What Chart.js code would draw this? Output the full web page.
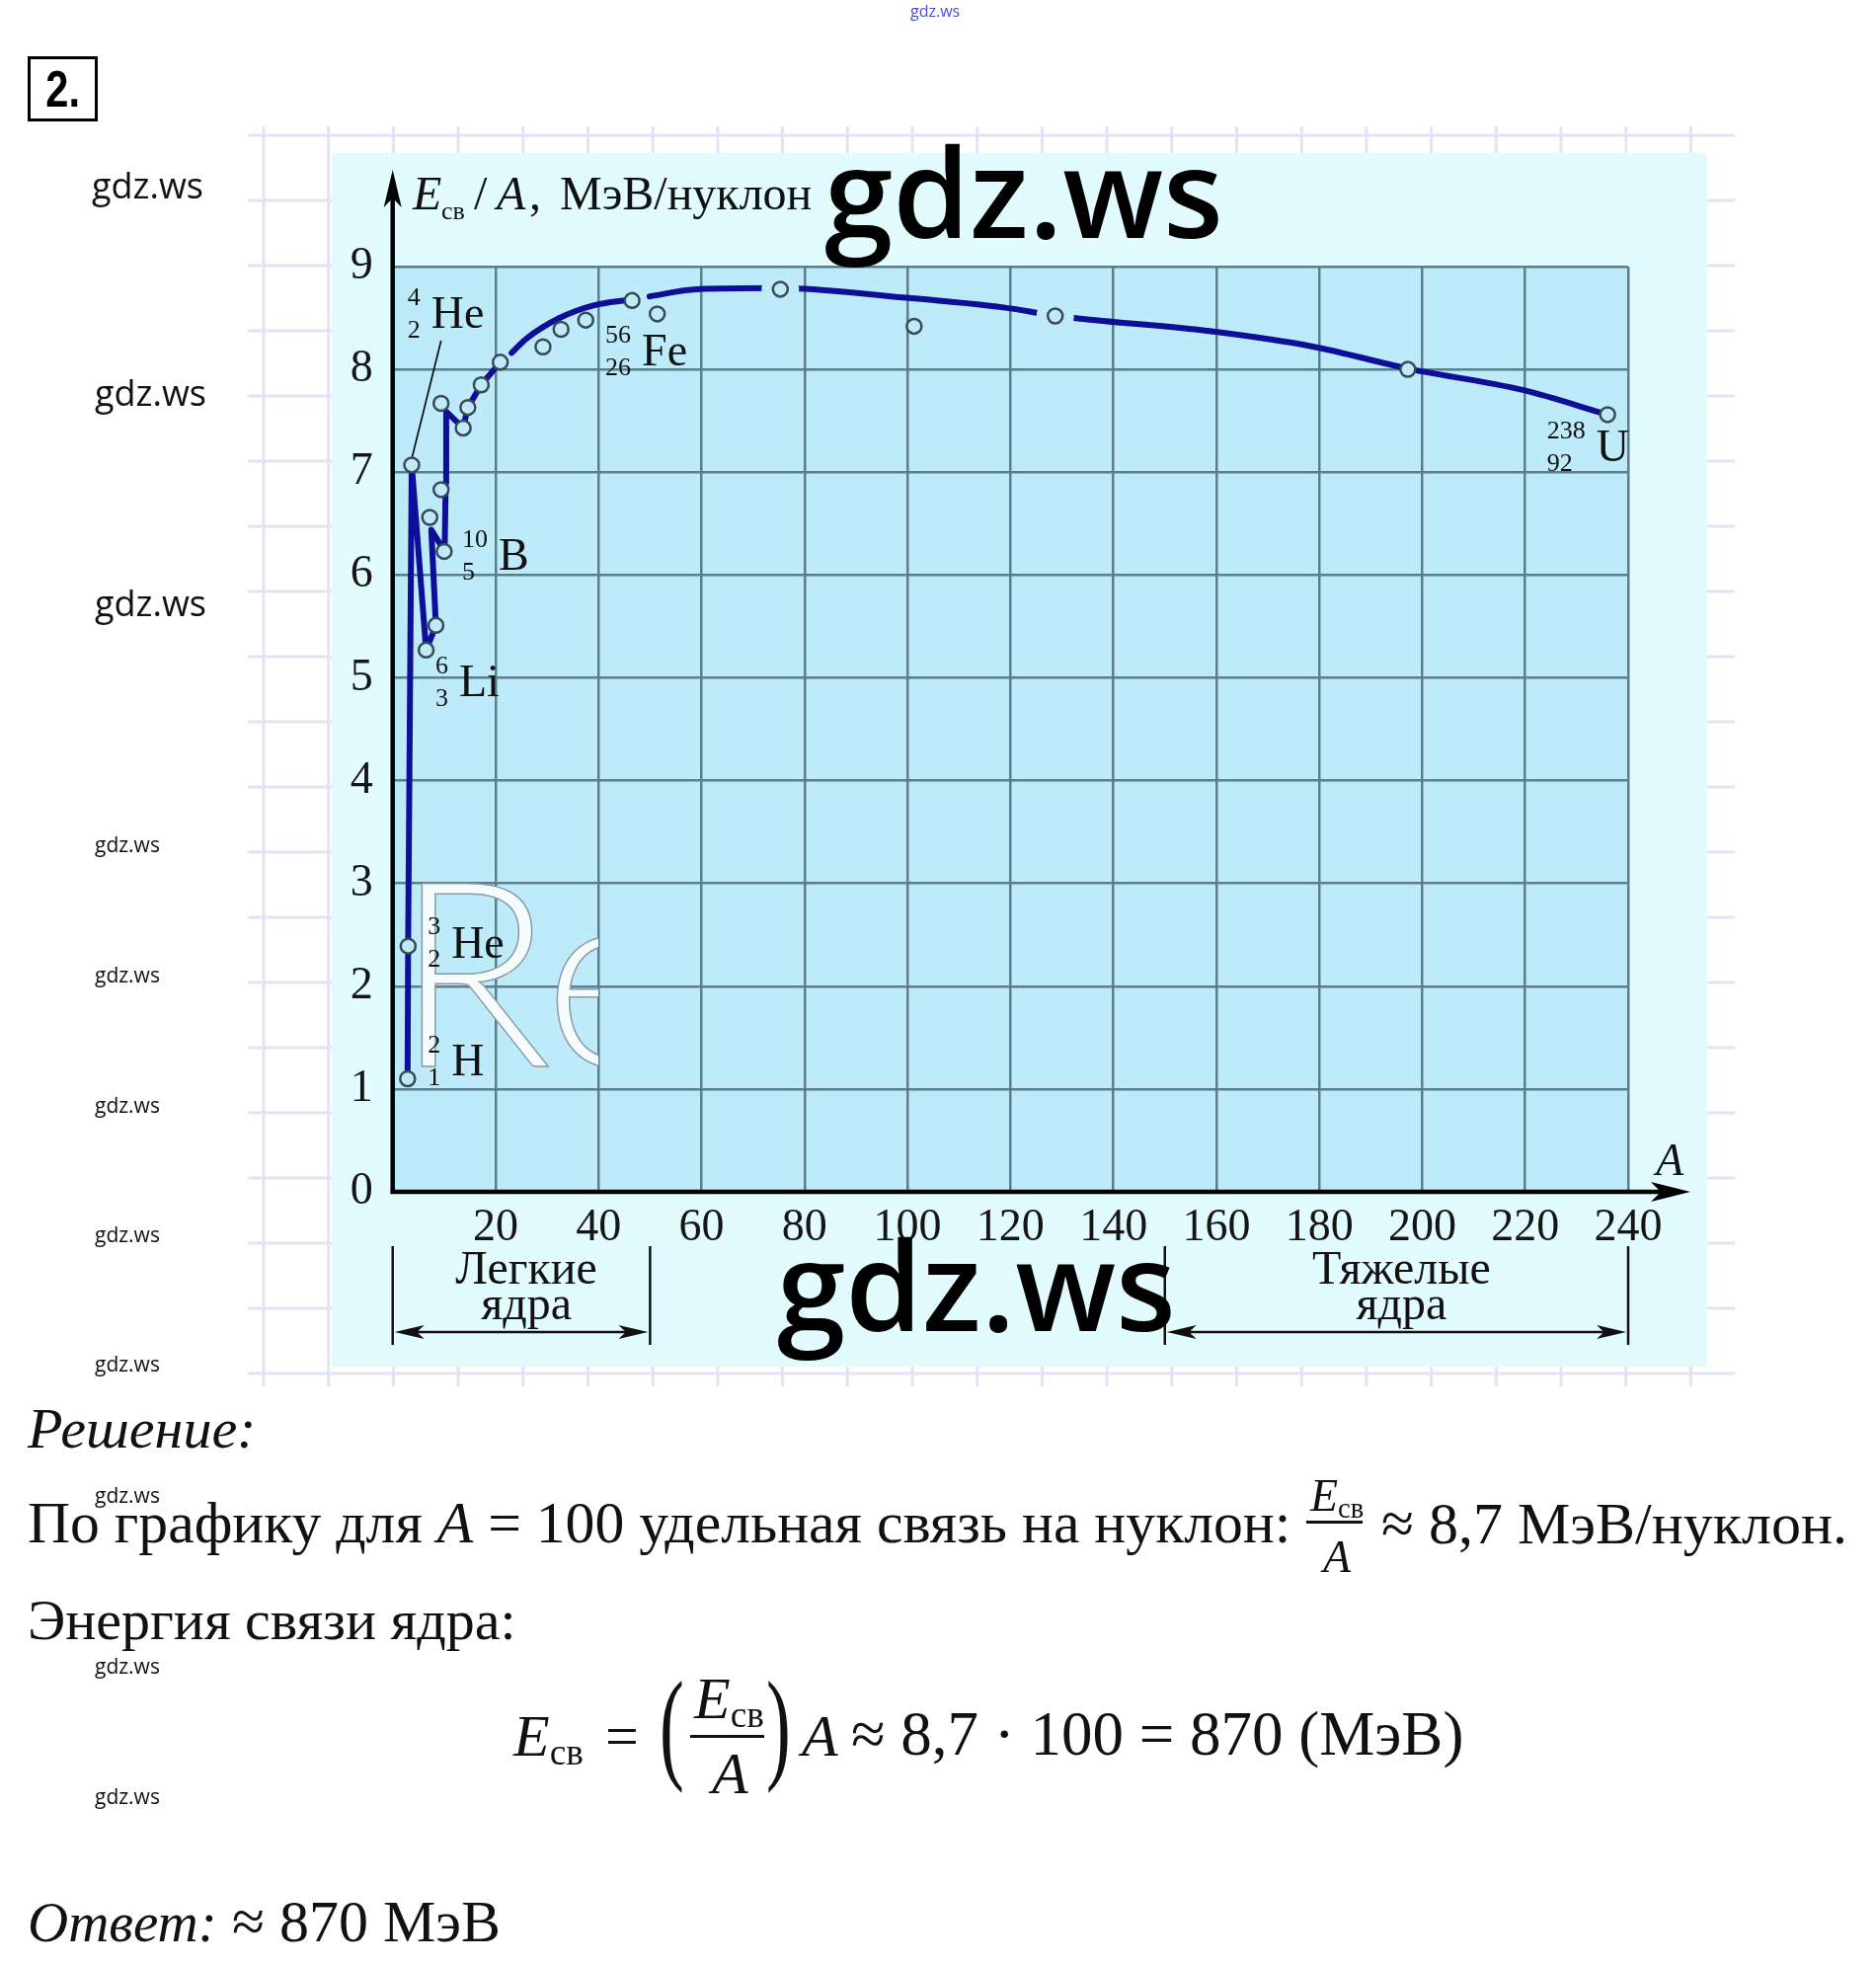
<!DOCTYPE html>
<html lang="ru">
<head>
<meta charset="utf-8">
<title>Удельная энергия связи ядер</title>
<script src="https://cdn.jsdelivr.net/npm/chart.js@4/dist/chart.umd.min.js"></script>
<style>
  html, body { margin: 0; padding: 0; background: #fff; }
  body { position: relative; width: 1900px; height: 1989px; overflow: hidden; }
  #chart { position: absolute; left: 0; top: 0; }
  .t { position: absolute; white-space: nowrap; line-height: 1; color: #111; font-family: "Liberation Serif", serif; }
  .ws { position: absolute; white-space: nowrap; line-height: 1; color: #111; font-family: "Open Sans", sans-serif; }
  .sub { font-size: 0.62em; vertical-align: -0.25em; line-height: 0; font-style: normal; }
  .bar { position: absolute; height: 3px; background: #111; }
  #num { position: absolute; left: 28px; top: 57px; width: 65px; height: 60px; border: 3px solid #000;
         font: bold 52px "Liberation Sans", sans-serif; line-height: 60px; text-align: center; }
  #num span { display: inline-block; transform: scaleX(0.8); }
</style>
</head>
<body>
<canvas id="chart" width="1900" height="1989"></canvas>
<div id="num"><span>2.</span></div>
<script>
// mass number A and binding energy per nucleon (MeV)
// light nuclei: the broken line from H-2 up to Ne-20
const zigzagA = [2.9, 3.0, 3.7, 6.5, 8.4, 7.5, 10.1, 10.3, 10.4, 13.7, 14.6, 17.2, 20.9];
const zigzagE = [1.10, 2.39, 7.07, 5.27, 5.51, 6.44, 6.23, 6.90, 7.59, 7.43, 7.63, 7.85, 8.07];
// smooth curve, rising part up to Fe
const riseA = [23.1, 26, 32.4, 38.8, 46.5];
const riseE = [8.16, 8.30, 8.50, 8.62, 8.68];
// smooth curve after Fe, down to U
const tailA = [49.9, 59, 75, 99, 119, 129, 159, 179, 197, 219.5, 236];
const tailE = [8.71, 8.78, 8.79, 8.70, 8.60, 8.52, 8.37, 8.22, 8.01, 7.80, 7.56];
// the small circles (measured nuclei)
const nucA = [2.9, 3.0, 3.7, 6.5, 8.4, 7.2, 10.0, 9.4, 9.4, 13.7, 14.6, 17.2, 20.9,
              29.2, 32.7, 37.5, 46.5, 51.4, 75.3, 101.3, 128.7, 197.2, 236];
const nucE = [1.10, 2.39, 7.07, 5.27, 5.51, 6.56, 6.23, 6.83, 7.67, 7.43, 7.63, 7.85, 8.07,
              8.22, 8.39, 8.48, 8.67, 8.54, 8.78, 8.42, 8.52, 8.00, 7.56];
// circles where the curve is broken off around them
const gapA = [75.3, 128.7];
const gapE = [8.78, 8.52];
// axis ticks
const xTicks = [0, 20, 40, 60, 80, 100, 120, 140, 160, 180, 200, 220, 240];
const yTicks = [0, 1, 2, 3, 4, 5, 6, 7, 8, 9];

const pts = (xs, ys) => xs.map((x, i) => ({ x: x, y: ys[i] }));

const LINE = '#0e0e98';
const PLOT_BG = '#bdebfa';
const SERIF = '"Liberation Serif", serif';

// nuclide tags: symbol's left/baseline given in data units
const tags = [
  { sym: 'He', mass: '4', charge: '2', a: 7.5, e: 8.40 },
  { sym: 'Fe', mass: '56', charge: '26', a: 48.4, e: 8.04 },
  { sym: 'B', mass: '10', charge: '5', a: 20.6, e: 6.05 },
  { sym: 'Li', mass: '6', charge: '3', a: 12.9, e: 4.82 },
  { sym: 'He', mass: '3', charge: '2', a: 11.4, e: 2.28 },
  { sym: 'H', mass: '2', charge: '1', a: 11.4, e: 1.13 },
  { sym: 'U', mass: '238', charge: '92', a: 233.8, e: 7.11 }
];

function seg(ctx, x1, y1, x2, y2) {
  ctx.beginPath(); ctx.moveTo(x1, y1); ctx.lineTo(x2, y2); ctx.stroke();
}
// filled arrow head, tip at (tx,ty), pointing along unit (dx,dy)
function head(ctx, tx, ty, dx, dy, len, half) {
  const bx = tx - dx * len, by = ty - dy * len;
  ctx.beginPath();
  ctx.moveTo(tx, ty);
  ctx.lineTo(bx - dy * half, by + dx * half);
  ctx.lineTo(bx + dx * len * 0.25, by + dy * len * 0.25);
  ctx.lineTo(bx + dy * half, by - dx * half);
  ctx.closePath();
  ctx.fill();
}

const figure = {
  id: 'figure',
  beforeDraw(chart) {
    const ctx = chart.ctx, a = chart.chartArea;
    ctx.save();
    ctx.fillStyle = '#fff';
    ctx.fillRect(0, 0, chart.width, chart.height);
    // notebook squares behind the picture
    ctx.strokeStyle = '#e3e3f6';
    ctx.lineWidth = 3;
    for (let k = 0; k < 20; k++) seg(ctx, 251, 137 + 66 * k, 1757, 137 + 66 * k);
    for (let k = 0; k < 23; k++) seg(ctx, 267 + 65.7 * k, 128, 267 + 65.7 * k, 1404);
    // the picture panel and plot background
    ctx.fillStyle = '#e2fbff';
    ctx.fillRect(336, 155, 1393, 1229);
    ctx.fillStyle = PLOT_BG;
    ctx.fillRect(a.left, a.top, a.right - a.left, a.bottom - a.top);
    ctx.restore();
  },
  beforeDatasetsDraw(chart) {
    const ctx = chart.ctx, a = chart.chartArea;
    const sx = chart.scales.x, sy = chart.scales.y;
    ctx.save();
    // faint "Re" watermark, cut off at the right
    ctx.beginPath();
    ctx.rect(a.left + 4, 860, 606 - a.left - 4, 240);
    ctx.clip();
    ctx.font = '300 262px Lato';
    ctx.fillStyle = '#f6fcfe';
    ctx.strokeStyle = '#8a9aa2';
    ctx.lineWidth = 1.5;
    ctx.fillText('Re', 400, 1080);
    ctx.strokeText('Re', 400, 1080);
    ctx.restore();

    ctx.save();
    // axes with arrows
    ctx.strokeStyle = '#000';
    ctx.fillStyle = '#000';
    ctx.lineWidth = 4.5;
    seg(ctx, a.left, a.bottom + 2, a.left, 200);
    head(ctx, a.left, 172, 0, -1, 38, 9);
    seg(ctx, a.left - 2, a.bottom, 1685, a.bottom);
    head(ctx, 1712, a.bottom, 1, 0, 40, 10);
    // leader line to He-4
    ctx.lineWidth = 1.6;
    seg(ctx, sx.getPixelForValue(9.4), sy.getPixelForValue(8.28),
             sx.getPixelForValue(3.6), sy.getPixelForValue(7.11));
    ctx.restore();
  },
  afterDatasetsDraw(chart) {
    const ctx = chart.ctx;
    const sx = chart.scales.x, sy = chart.scales.y;
    ctx.save();
    ctx.fillStyle = '#111';
    ctx.strokeStyle = '#111';
    // nuclide tags
    tags.forEach(t => {
      const x = sx.getPixelForValue(t.a), y = sy.getPixelForValue(t.e);
      ctx.textBaseline = 'alphabetic';
      ctx.font = '46px ' + SERIF;
      ctx.fillText(t.sym, x, y);
      ctx.font = '26px ' + SERIF;
      const w = Math.max(ctx.measureText(t.mass).width, ctx.measureText(t.charge).width);
      const dx = x - w - 11;
      ctx.textBaseline = 'middle';
      ctx.fillText(t.mass, dx, y - 30);
      ctx.fillText(t.charge, dx, y + 3);
    });
    ctx.textBaseline = 'alphabetic';
    // y axis title
    ctx.font = 'italic 48px ' + SERIF;
    ctx.fillText('E', 418, 212);
    ctx.font = '26px ' + SERIF;
    ctx.fillText('св', 447, 222);
    ctx.font = '48px ' + SERIF;
    ctx.fillText('/', 480, 212);
    ctx.font = 'italic 48px ' + SERIF;
    ctx.fillText('A', 503, 212);
    ctx.font = '48px ' + SERIF;
    ctx.fillText(',', 536, 212);
    ctx.fillText('МэВ/нуклон', 567, 212);
    // x axis letter
    ctx.font = 'italic 46px ' + SERIF;
    ctx.fillText('A', 1677, 1190);
    // light / heavy nuclei brackets
    const brackets = [[0, 50, 'Легкие'], [150, 240, 'Тяжелые']];
    brackets.forEach(b => {
      const x1 = sx.getPixelForValue(b[0]), x2 = sx.getPixelForValue(b[1]);
      ctx.lineWidth = 2.5;
      seg(ctx, x1, 1262, x1, 1362);
      seg(ctx, x2, 1262, x2, 1362);
      seg(ctx, x1 + 20, 1349, x2 - 20, 1349);
      head(ctx, x1 + 2, 1349, -1, 0, 30, 7);
      head(ctx, x2 - 2, 1349, 1, 0, 30, 7);
      ctx.font = '48px ' + SERIF;
      ctx.textAlign = 'center';
      ctx.fillText(b[2], (x1 + x2) / 2 + 5, 1300);
      ctx.fillText('ядра', (x1 + x2) / 2 + 5, 1336);
      ctx.textAlign = 'left';
    });
    ctx.restore();
  },
  afterDraw(chart) {
    const ctx = chart.ctx;
    ctx.save();
    ctx.fillStyle = '#000';
    ctx.font = '600 125px "Open Sans"';
    ctx.fillText('gdz.ws', 835, 241);
    ctx.fillText('gdz.ws', 787, 1348);
    ctx.restore();
  }
};

const tickFont = { family: SERIF, size: 46 };

new Chart(document.getElementById('chart'), {
  type: 'scatter',
  data: {
    datasets: [
      { label: 'ядра', data: pts(nucA, nucE), showLine: false, order: 0,
        pointRadius: 7.5, pointBorderWidth: 2.5, pointBorderColor: '#3b4a52', pointBackgroundColor: PLOT_BG },
      { label: 'разрыв', data: pts(gapA, gapE), showLine: false, order: 1,
        pointRadius: 19, pointBorderWidth: 0, pointBackgroundColor: PLOT_BG },
      { label: 'лёгкие', data: pts(zigzagA, zigzagE), showLine: true, order: 2, tension: 0,
        borderColor: LINE, borderWidth: 6, pointRadius: 0, borderJoinStyle: 'round', borderCapStyle: 'round' },
      { label: 'рост', data: pts(riseA, riseE), showLine: true, order: 2, cubicInterpolationMode: 'monotone',
        borderColor: LINE, borderWidth: 6, pointRadius: 0, borderCapStyle: 'round' },
      { label: 'спад', data: pts(tailA, tailE), showLine: true, order: 2, cubicInterpolationMode: 'monotone',
        borderColor: LINE, borderWidth: 6, pointRadius: 0, borderCapStyle: 'round' }
    ]
  },
  options: {
    responsive: false,
    animation: false,
    devicePixelRatio: 1,
    layout: { padding: { left: 337.7, right: 251, top: 270, bottom: 722 } },
    plugins: { legend: { display: false }, tooltip: { enabled: false } },
    scales: {
      x: {
        type: 'linear', min: 0, max: 240,
        afterBuildTicks: s => { s.ticks = xTicks.map(v => ({ value: v })); },
        afterFit: s => { s.height = 60; },
        ticks: { font: tickFont, color: '#151515', padding: 9, autoSkip: false, maxRotation: 0,
                 callback: v => (v === 0 ? '' : String(v)) },
        grid: { color: '#5c7d8a', lineWidth: 2.5, drawTicks: false },
        border: { display: false }
      },
      y: {
        type: 'linear', min: 0, max: 9,
        afterBuildTicks: s => { s.ticks = yTicks.map(v => ({ value: v })); },
        afterFit: s => { s.width = 60; },
        ticks: { font: tickFont, color: '#151515', padding: 20 },
        grid: { color: '#5c7d8a', lineWidth: 2.5, drawTicks: false },
        border: { display: false }
      }
    }
  },
  plugins: [figure]
});

// page text, positioned by baseline
const ASC = { t: 0.8375, ws: 0.888 };
function put(html, x, base, size, cls, style) {
  cls = cls || 't';
  const el = document.createElement('div');
  el.className = cls;
  el.innerHTML = html;
  el.style.cssText = 'left:' + x + 'px;top:' + (base - ASC[cls] * size) + 'px;font-size:' + size + 'px;' + (style || '');
  document.body.appendChild(el);
  return el;
}
function bar(x, y, w) {
  const el = document.createElement('div');
  el.className = 'bar';
  el.style.cssText = 'left:' + x + 'px;top:' + y + 'px;width:' + w + 'px;';
  document.body.appendChild(el);
}
const Esv = '<i>E</i><span class="sub">св</span>';

put('<i>Решение:</i>', 28, 1467, 58);
put('По графику для <i>A</i> = 100 удельная связь на нуклон:', 28, 1563, 59.7);
put(Esv, 1327, 1531, 46);
bar(1323, 1540, 57);
put('<i>A</i>', 1340, 1593, 46);
put('≈ 8,7 МэВ/нуклон.', 1399, 1563, 60);
put('Энергия связи ядра:', 28, 1661, 58);

put(Esv, 520, 1778, 60);
put('=', 613, 1778, 60);
put('(', 668, 1790, 124, 't', 'transform:scaleX(0.6);transform-origin:left;');
put(Esv, 703, 1740, 60);
bar(699, 1757, 75);
put('<i>A</i>', 721, 1816, 60);
put(')', 776, 1790, 124, 't', 'transform:scaleX(0.6);transform-origin:left;');
put('<i>A</i>', 812, 1778, 60);
put('≈ 8,7 · 100 = 870 (МэВ)', 862, 1778, 63);

put('<i>Ответ:</i>', 28, 1966, 57);
put('≈ 870 МэВ', 235, 1966, 60);

// site marks
put('gdz.ws', 922, 17, 16, 'ws', 'color:#4b4bd8;');
[[93, 202], [96, 412], [96, 625]].forEach(p => put('gdz.ws', p[0], p[1], 36, 'ws'));
[864, 996, 1128, 1259, 1390, 1523, 1696, 1828].forEach(b => put('gdz.ws', 96, b, 21, 'ws'));
</script>
</body>
</html>
